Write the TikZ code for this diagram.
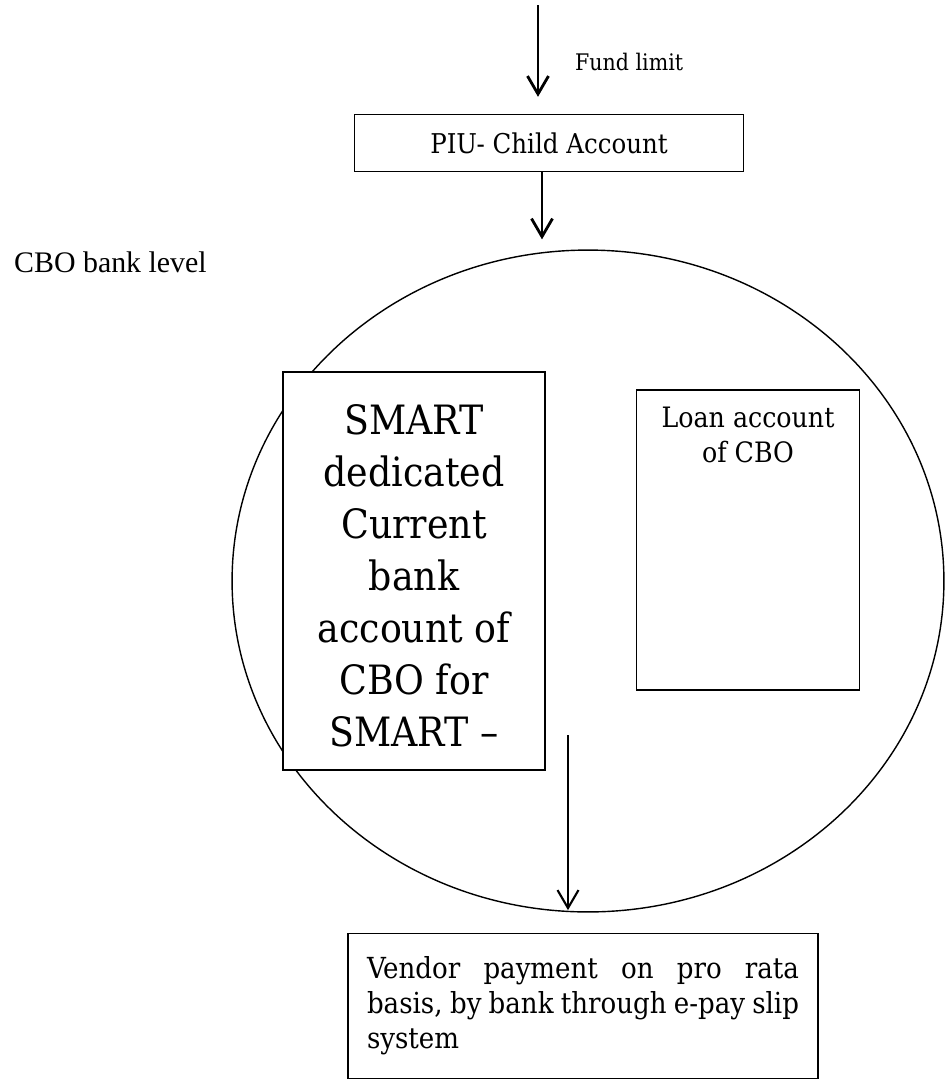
\documentclass[tikz,border=0pt]{standalone}
\usepackage{fontspec}
\setmainfont{Liberation Serif}
\newfontfamily\boxfont{DejaVu Serif Condensed}
\usetikzlibrary{shapes.geometric,arrows.meta,positioning}

\tikzset{
  flowbox/.style={draw, fill=white, line width=0.8pt, inner sep=0pt, font=\boxfont},
  flowarrow/.style={line width=1.6pt, -{Straight Barb[length=0.36cm,width=0.42cm,line width=1.6pt]}},
  thinarrow/.style={line width=1.2pt, -{Straight Barb[length=0.36cm,width=0.42cm,line width=1.2pt]}}
}

\begin{document}
\begin{tikzpicture}[x=0.02cm, y=-0.02cm]
\useasboundingbox (0,0) rectangle (946,1083);
% Top of the flow
\coordinate (start) at (538,5);
\node[flowbox, minimum width=7.78cm, minimum height=1.14cm, font=\boxfont\fontsize{15.5}{18}\selectfont] (piu) at (549,143) {PIU- Child Account};
\draw[flowarrow, shorten >=0.34cm] (start) -- (start |- piu.north);
\node[anchor=west, font=\boxfont\fontsize{13}{16}\selectfont] (fund) at (569,62) {Fund limit};

% Bank level
\node[anchor=west, font=\fontsize{17}{20}\selectfont] (cbolevel) at (8,262) {CBO bank level};
\node[draw, ellipse, line width=0.8pt, inner sep=0pt, minimum width=14.24cm, minimum height=13.24cm] (bank) at (588,581) {};
\draw[flowarrow, shorten >=0.2cm] ([xshift=-0.14cm]piu.south) -- ([xshift=-0.14cm]piu.south |- bank.north);

\node[flowbox, minimum width=5.24cm, minimum height=7.96cm] (current) at (414,571) {};
\node[align=center, font=\boxfont\fontsize{23}{29.6}\selectfont] (currenttext) at (414,576)
  {SMART\\dedicated\\Current\\bank\\account of\\CBO for\\SMART –};
\node[flowbox, minimum width=4.46cm, minimum height=6cm] (loan) at (748,540) {};
\node[below=0.22cm of loan.north, align=center, font=\boxfont\fontsize{16}{20}\selectfont] (loantext) {Loan account\\of CBO};

% Payment
\coordinate (payout) at (568,735);
\draw[thinarrow, shorten >=0.05cm] (payout) -- (payout |- bank.south);
\node[flowbox, minimum width=9.4cm, minimum height=2.9cm, text width=8.64cm, align=justify, font=\boxfont\fontsize{16.5}{20}\selectfont] (vendor) at (583,1006)
  {\hyphenpenalty=10000\relax\exhyphenpenalty=10000\relax Vendor payment on pro rata basis, by bank through e-pay slip system\par};
\end{tikzpicture}
\end{document}
